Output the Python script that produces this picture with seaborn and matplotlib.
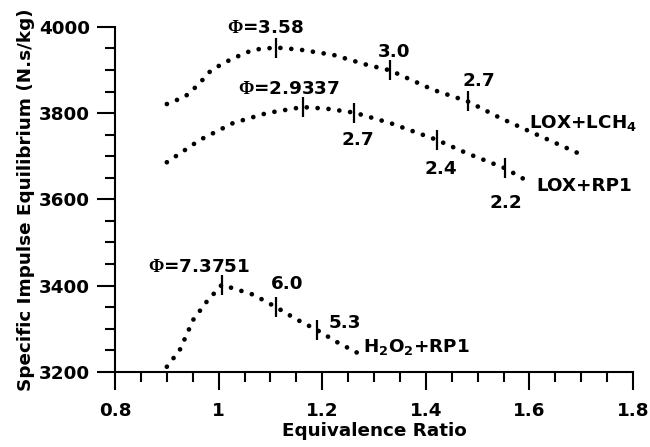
import numpy as np
import pandas as pd
import matplotlib
matplotlib.use("Agg")
import matplotlib.pyplot as plt
import seaborn as sns
from matplotlib.ticker import MultipleLocator

# values
lch4_x = [0.900, 0.935, 0.960, 0.983, 1.005, 1.028, 1.067, 1.111, 1.157, 1.221,
          1.286, 1.331, 1.414, 1.481, 1.543, 1.607, 1.694]
lch4_y = [3821, 3838, 3865, 3896, 3913, 3927, 3947, 3952, 3947, 3935,
          3912, 3899, 3854, 3827, 3789, 3754, 3707]
lch4_mark_x = [1.111, 1.331, 1.481]
lch4_mark_y = [3952, 3899, 3827]
lch4_mark_lbl = ["$\\mathrm{\\Phi}$=3.58", "3.0", "2.7"]

rp1_x = [0.900, 0.964, 1.028, 1.093, 1.162, 1.210, 1.262, 1.331, 1.421, 1.479, 1.553, 1.601]
rp1_y = [3686, 3738, 3777, 3800, 3814, 3810, 3801, 3777, 3738, 3707, 3672, 3639]
rp1_mark_x = [1.162, 1.262, 1.421, 1.553]
rp1_mark_y = [3814, 3801, 3738, 3672]
rp1_mark_lbl = ["$\\mathrm{\\Phi}$=2.9337", "2.7", "2.4", "2.2"]

h2o2_x = [0.900, 0.925, 0.951, 0.977, 1.006, 1.067, 1.111, 1.150, 1.190, 1.230, 1.276]
h2o2_y = [3212, 3251, 3321, 3363, 3402, 3379, 3350, 3322, 3297, 3268, 3239]
h2o2_mark_x = [1.006, 1.111, 1.190]
h2o2_mark_y = [3402, 3350, 3297]
h2o2_mark_lbl = ["$\\mathrm{\\Phi}$=7.3751", "6.0", "5.3"]

series_names = ["LOX+LCH$_\\mathbf{4}$", "LOX+RP1", "$\\mathbf{H_2O_2}$+RP1"]

sns.set_style("ticks")
plt.rcParams["font.family"] = ["DejaVu Sans"]
plt.rcParams["font.weight"] = "bold"
plt.rcParams["text.color"] = "black"
plt.rcParams["axes.labelcolor"] = "black"
plt.rcParams["xtick.color"] = "black"
plt.rcParams["ytick.color"] = "black"
plt.rcParams["mathtext.fontset"] = "custom"
plt.rcParams["mathtext.rm"] = "Liberation Serif"
plt.rcParams["mathtext.bf"] = "DejaVu Sans:bold"
plt.rcParams["mathtext.it"] = "DejaVu Sans:bold"

df = pd.concat([
    pd.DataFrame({"x": lch4_x, "y": lch4_y, "fuel": series_names[0]}),
    pd.DataFrame({"x": rp1_x, "y": rp1_y, "fuel": series_names[1]}),
    pd.DataFrame({"x": h2o2_x, "y": h2o2_y, "fuel": series_names[2]}),
])

fig = plt.figure(figsize=(6.5, 4.47), dpi=100)
ax = fig.add_axes([0.177, 0.168, 0.797, 0.772])

dots = (0, (0.01, 2.3))
for name in series_names:
    sub = df[df["fuel"] == name]
    sns.lineplot(data=sub, x="x", y="y", sort=False, estimator=None, ax=ax,
                 color="black", linewidth=3.4, linestyle=dots,
                 dash_capstyle="round", legend=False)

# short vertical bars on the curves
for mx, my in [(lch4_mark_x, lch4_mark_y), (rp1_mark_x, rp1_mark_y),
               (h2o2_mark_x, h2o2_mark_y)]:
    ax.plot(mx, my, ls="none", marker="|", ms=15, mew=1.6, color="black")

fs = 13.2
# labels next to the markers
ax.text(1.090, 3986, lch4_mark_lbl[0], ha="center", va="baseline", fontsize=fs)
ax.text(1.339, 3930, lch4_mark_lbl[1], ha="center", va="baseline", fontsize=fs)
ax.text(1.503, 3863, lch4_mark_lbl[2], ha="center", va="baseline", fontsize=fs)
ax.text(1.135, 3845, rp1_mark_lbl[0], ha="center", va="baseline", fontsize=fs)
ax.text(1.268, 3726, rp1_mark_lbl[1], ha="center", va="baseline", fontsize=fs)
ax.text(1.429, 3659, rp1_mark_lbl[2], ha="center", va="baseline", fontsize=fs)
ax.text(1.555, 3580, rp1_mark_lbl[3], ha="center", va="baseline", fontsize=fs)
ax.text(0.962, 3432, h2o2_mark_lbl[0], ha="center", va="baseline", fontsize=fs)
ax.text(1.132, 3392, h2o2_mark_lbl[1], ha="center", va="baseline", fontsize=fs)
ax.text(1.244, 3302, h2o2_mark_lbl[2], ha="center", va="baseline", fontsize=fs)

# series names
ax.text(1.599, 3766, series_names[0], ha="left", va="baseline", fontsize=fs)
ax.text(1.613, 3620, series_names[1], ha="left", va="baseline", fontsize=fs)
ax.text(1.279, 3246, series_names[2], ha="left", va="baseline", fontsize=fs)

ax.set_xlim(0.8, 1.8)
ax.set_ylim(3200, 4000)
ax.xaxis.set_minor_locator(MultipleLocator(0.05))
ax.yaxis.set_major_locator(MultipleLocator(200))
ax.yaxis.set_minor_locator(MultipleLocator(50))
ax.set_xticks([0.8, 1.0, 1.2, 1.4, 1.6, 1.8])
ax.set_xticklabels(["0.8", "1", "1.2", "1.4", "1.6", "1.8"])

ax.tick_params(which="major", length=13, width=1.5, labelsize=fs, color="black")
ax.tick_params(which="minor", length=7, width=1.5, color="black")
ax.tick_params(axis="x", which="major", pad=9)
ax.tick_params(axis="y", which="major", pad=5)
for lbl in ax.get_xticklabels() + ax.get_yticklabels():
    lbl.set_fontweight("bold")

sns.despine(ax=ax)
for s in ["left", "bottom"]:
    ax.spines[s].set_linewidth(1.5)
    ax.spines[s].set_color("black")

ax.set_xlabel("Equivalence Ratio", fontsize=fs, fontweight="bold", labelpad=1)
ax.set_ylabel("Specific Impulse Equilibrium (N.s/kg)", fontsize=fs,
              fontweight="bold", labelpad=3)

fig.savefig("out.png", dpi=100)
